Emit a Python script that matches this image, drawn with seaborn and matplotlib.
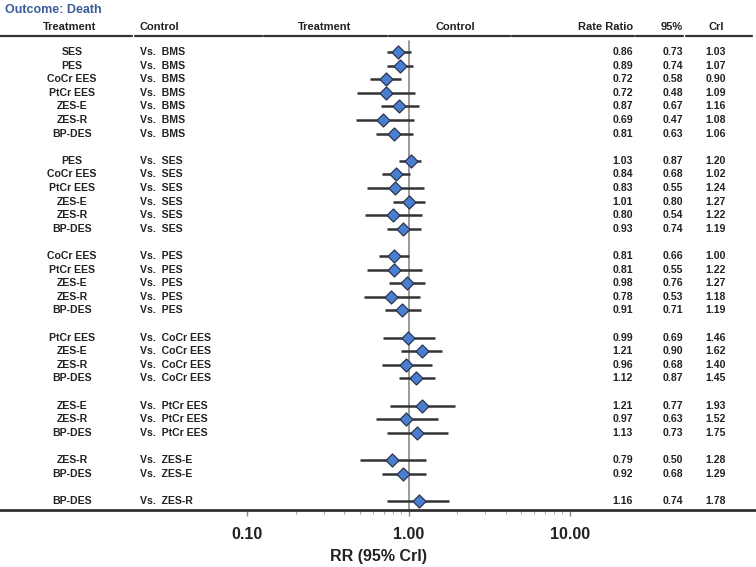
import numpy as np
import pandas as pd
import matplotlib
matplotlib.use("Agg")
import matplotlib.pyplot as plt
import matplotlib.transforms as mtransforms
from matplotlib.ticker import FixedLocator, FixedFormatter, NullFormatter
import seaborn as sns

treatments = ["SES", "PES", "CoCr EES", "PtCr EES", "ZES-E", "ZES-R", "BP-DES",
              "PES", "CoCr EES", "PtCr EES", "ZES-E", "ZES-R", "BP-DES",
              "CoCr EES", "PtCr EES", "ZES-E", "ZES-R", "BP-DES",
              "PtCr EES", "ZES-E", "ZES-R", "BP-DES",
              "ZES-E", "ZES-R", "BP-DES",
              "ZES-R", "BP-DES",
              "BP-DES"]
controls = ["BMS"] * 7 + ["SES"] * 6 + ["PES"] * 5 + ["CoCr EES"] * 4 + ["PtCr EES"] * 3 + ["ZES-E"] * 2 + ["ZES-R"]
rate_ratio = [0.86, 0.89, 0.72, 0.72, 0.87, 0.69, 0.81,
              1.03, 0.84, 0.83, 1.01, 0.80, 0.93,
              0.81, 0.81, 0.98, 0.78, 0.91,
              0.99, 1.21, 0.96, 1.12,
              1.21, 0.97, 1.13,
              0.79, 0.92,
              1.16]
ci_low = [0.73, 0.74, 0.58, 0.48, 0.67, 0.47, 0.63,
          0.87, 0.68, 0.55, 0.80, 0.54, 0.74,
          0.66, 0.55, 0.76, 0.53, 0.71,
          0.69, 0.90, 0.68, 0.87,
          0.77, 0.63, 0.73,
          0.50, 0.68,
          0.74]
ci_high = [1.03, 1.07, 0.90, 1.09, 1.16, 1.08, 1.06,
           1.20, 1.02, 1.24, 1.27, 1.22, 1.19,
           1.00, 1.22, 1.27, 1.18, 1.19,
           1.46, 1.62, 1.40, 1.45,
           1.93, 1.52, 1.75,
           1.28, 1.29,
           1.78]
tick_values = [0.1, 1.0, 10.0]
tick_labels = ["0.10", "1.00", "10.00"]

df = pd.DataFrame({"treatment": treatments, "control": controls,
                   "rr": rate_ratio, "lo": ci_low, "hi": ci_high})
# row positions: blank line between control groups
pos = []
p = 0
prev = None
for c in df["control"]:
    if prev is not None and c != prev:
        p += 1
    pos.append(p)
    p += 1
    prev = c
df["pos"] = pos

W, H = 756, 567
sns.set_style("white")
plt.rcParams["font.family"] = ["Liberation Sans", "DejaVu Sans"]
fig = plt.figure(figsize=(W / 100, H / 100), dpi=100)

ax_top_px, ax_bot_px = 36, 510
ax = fig.add_axes([0, 1 - ax_bot_px / H, 1, (ax_bot_px - ax_top_px) / H])
ax.set_xscale("log")
left_log = -1 - 247 / 161
right_log = 1 + (W - 570) / 161
ax.set_xlim(10 ** left_log, 10 ** right_log)
row_px = 13.6
row0_px = 52
ax.set_ylim((ax_bot_px - row0_px) / row_px, (ax_top_px - row0_px) / row_px)

# reference line
ax.axvline(1.0, ymin=0, ymax=0.99, color="#8a8a8a", lw=1.2, zorder=1)
# CI lines
ax.hlines(df["pos"], df["lo"], df["hi"], color="#333333", lw=1.8, zorder=2)
sns.scatterplot(data=df, x="rr", y="pos", marker="D", s=44, color="#4a7fd0",
                edgecolor="#2b3550", linewidth=0.9, zorder=3, ax=ax, legend=False)

for s in ["top", "left", "right"]:
    ax.spines[s].set_visible(False)
ax.spines["bottom"].set_linewidth(2)
ax.spines["bottom"].set_color("#333333")
ax.set_yticks([])
ax.set_ylabel("")
ax.xaxis.set_major_locator(FixedLocator(tick_values))
ax.xaxis.set_major_formatter(FixedFormatter(tick_labels))
minor = [m * d for d in [0.1, 1.0] for m in range(2, 10)]
ax.xaxis.set_minor_locator(FixedLocator(minor))
ax.xaxis.set_minor_formatter(NullFormatter())
ax.tick_params(axis="x", which="major", bottom=True, direction="out", length=4, width=1,
               color="#888888", pad=8, labelsize=11.5, labelcolor="#222222")
ax.tick_params(axis="x", which="minor", bottom=True, direction="out", length=3, width=0.8,
               color="#aaaaaa")
for lab in ax.get_xticklabels():
    lab.set_fontweight("bold")
ax.set_xlabel("RR (95% CrI)", fontsize=11.5, fontweight="bold", color="#222222", labelpad=5)

# row texts
trans = mtransforms.blended_transform_factory(ax.transAxes, ax.transData)
fs = 7.6
tc = "#222222"
for _, r in df.iterrows():
    y = r["pos"]
    ax.text(72 / W, y, r["treatment"], transform=trans, ha="center", va="center",
            fontsize=fs, fontweight="bold", color=tc)
    ax.text(140 / W, y, "Vs.  " + r["control"], transform=trans, ha="left", va="center",
            fontsize=fs, fontweight="bold", color=tc)
    ax.text(633 / W, y, f"{r['rr']:.2f}", transform=trans, ha="right", va="center",
            fontsize=fs, fontweight="bold", color=tc)
    ax.text(683 / W, y, f"{r['lo']:.2f}", transform=trans, ha="right", va="center",
            fontsize=fs, fontweight="bold", color=tc)
    ax.text(726 / W, y, f"{r['hi']:.2f}", transform=trans, ha="right", va="center",
            fontsize=fs, fontweight="bold", color=tc)

# headers
hy = 1 - 27 / H
hfs = 8
fig.text(70 / W, hy, "Treatment", ha="center", va="center", fontsize=hfs, fontweight="bold", color=tc)
fig.text(140 / W, hy, "Control", ha="left", va="center", fontsize=hfs, fontweight="bold", color=tc)
fig.text(325 / W, hy, "Treatment", ha="center", va="center", fontsize=hfs, fontweight="bold", color=tc)
fig.text(455 / W, hy, "Control", ha="center", va="center", fontsize=hfs, fontweight="bold", color=tc)
fig.text(633 / W, hy, "Rate Ratio", ha="right", va="center", fontsize=hfs, fontweight="bold", color=tc)
fig.text(683 / W, hy, "95%", ha="right", va="center", fontsize=hfs, fontweight="bold", color=tc)
fig.text(716 / W, hy, "CrI", ha="center", va="center", fontsize=hfs, fontweight="bold", color=tc)
fig.text(5 / W, 1 - 10 / H, "Outcome: Death", ha="left", va="center", fontsize=9,
         fontweight="bold", color="#3b5c99")

# header underline segments
segs = [(0, 132), (135, 262), (264, 387), (389, 510), (512, 634), (636, 683), (686, 752)]
ly = 1 - 36 / H
for a, b in segs:
    fig.add_artist(plt.Line2D([a / W, b / W], [ly, ly], transform=fig.transFigure,
                              color="#333333", lw=1.6))

fig.savefig("out.png", dpi=100)
